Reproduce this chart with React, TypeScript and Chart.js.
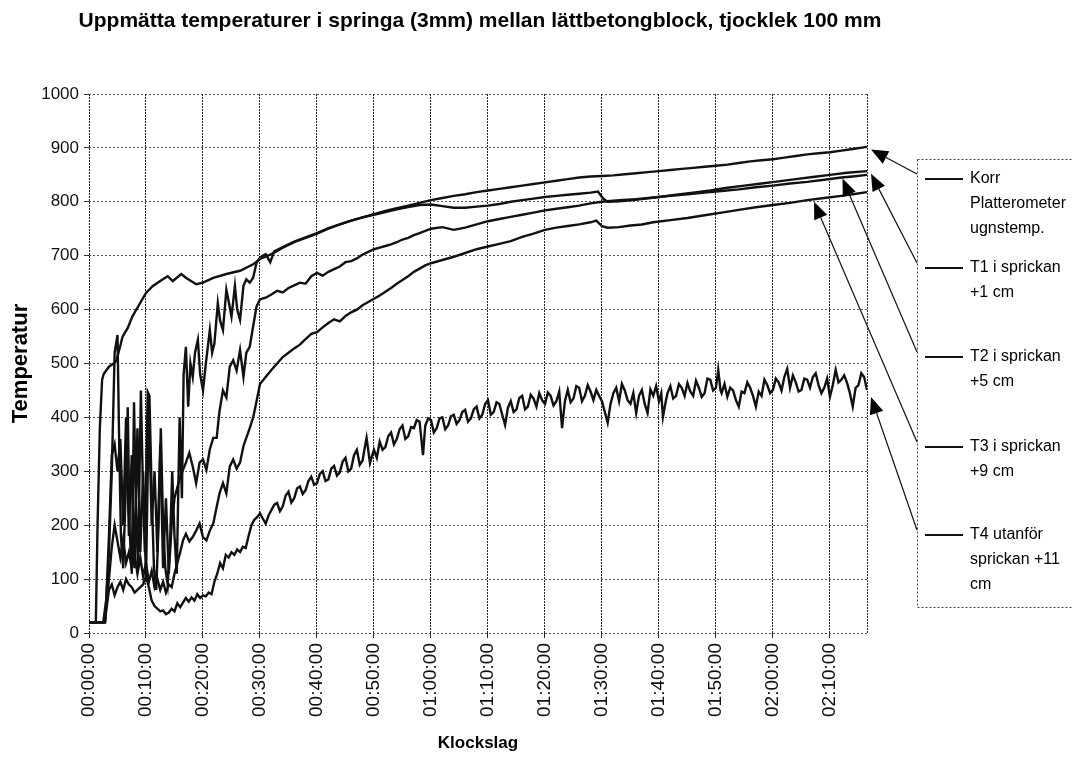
import React, { useEffect, useRef } from 'react';
import { Chart, registerables } from 'chart.js';

Chart.register(...registerables);

const FONT = '"Liberation Sans", Arial, Helvetica, sans-serif';

const TITLE = 'Uppmätta temperaturer i springa (3mm) mellan lättbetongblock, tjocklek 100 mm';
const X_TITLE = 'Klockslag';
const Y_TITLE = 'Temperatur';

const SERIES_NAMES = [
  'Korr Platterometer ugnstemp.',
  'T1 i sprickan +1 cm',
  'T2 i sprickan +5 cm',
  'T3 i sprickan +9 cm',
  'T4 utanför sprickan +11 cm',
];

const LEGEND_LINES = [
  ['Korr', 'Platterometer', 'ugnstemp.'],
  ['T1 i sprickan', '+1 cm'],
  ['T2 i sprickan', '+5 cm'],
  ['T3 i sprickan', '+9 cm'],
  ['T4 utanför', 'sprickan +11', 'cm'],
];

// time axis: minutes since start, temperature in °C
const X_MAX_MIN = 136.5;
const X_STEP_MIN = 10;
const Y_MAX = 1000;
const Y_STEP = 100;

const furnace: [number, number][] = [
  [0, 20], [1.2, 20], [1.5, 200], [1.9, 380], [2.3, 470], [2.6, 481], [3.5, 494], [4.3, 500], [4.8, 505],
  [5.3, 525], [5.9, 550], [6.8, 566], [7.6, 587], [8.8, 609], [10, 631], [11.2, 644], [12.9, 656], [13.8, 662],
  [14.7, 653], [16.2, 666], [17, 659], [18.8, 647], [20, 650], [21.8, 659], [24.1, 666], [26.5, 672], [28.8, 684],
  [30, 694], [32, 703], [34, 715], [36, 725], [38, 733], [40, 741], [42, 750], [44, 758], [46, 765], [48, 771],
  [50, 777], [52, 783], [54, 788], [56, 793], [58, 798], [60, 803], [62, 807], [64, 811], [66, 814], [68, 818],
  [70, 821], [72, 824], [74, 827], [76, 830], [78, 833], [80, 836], [82, 839], [84, 842], [86, 845], [88, 847],
  [90, 848], [92, 849], [94, 851], [96, 853], [98, 855], [100, 857], [102, 859], [104, 861], [106, 863], [108, 865],
  [110, 867], [112, 869], [114, 872], [116, 875], [118, 877], [120, 879], [122, 882], [124, 885], [126, 888],
  [128, 890], [130, 892], [132, 895], [134, 898], [136.5, 902],
];

const t1: [number, number][] = [
  [0, 20], [2.5, 20], [3, 60], [3.5, 150], [4, 300], [4.5, 520], [5, 553], [5.3, 350], [5.6, 180], [6, 120],
  [6.4, 250], [6.8, 419], [7.1, 200], [7.5, 110], [7.9, 428], [8.2, 250], [8.6, 120], [9.1, 450], [9.4, 300],
  [9.8, 150], [10.3, 447], [10.6, 440], [11, 260], [11.4, 120], [11.8, 80], [12.2, 200], [12.6, 380], [13, 200],
  [13.4, 120], [13.8, 90], [14.2, 160], [14.6, 300], [15, 180], [15.4, 110], [15.9, 400], [16.3, 250], [16.6, 480],
  [17, 531], [17.4, 420], [17.8, 500], [18.2, 475], [18.6, 520], [19.1, 544], [19.5, 480], [20, 450], [20.5, 500],
  [21.2, 562], [21.6, 520], [22, 537], [22.6, 612], [23, 580], [23.5, 562], [24.1, 637], [24.6, 610], [25, 587],
  [25.6, 644], [26, 600], [26.5, 581], [27.1, 644], [27.6, 656], [28.2, 650], [28.8, 659], [29.4, 687], [30, 697],
  [31, 703], [31.8, 688], [32.5, 708], [34, 716], [36, 726], [38, 734], [40, 742], [42, 751], [44, 758], [46, 765],
  [48, 771], [50, 776], [52, 781], [54, 786], [56, 790], [58, 794], [60, 795], [62, 792], [64, 789], [66, 789],
  [68, 791], [70, 793], [72, 796], [74, 800], [76, 803], [78, 806], [80, 809], [82, 811], [84, 813], [86, 815],
  [88, 817], [89.3, 819], [90.2, 806], [91, 800], [93, 801], [95, 803], [97, 805], [100, 809], [103, 813],
  [106, 817], [109, 821], [112, 826], [115, 830], [118, 834], [121, 838], [124, 842], [127, 846], [130, 850],
  [133, 854], [136.5, 857],
];

const t2: [number, number][] = [
  [0, 20], [2.8, 20], [3, 50], [3.5, 180], [4, 330], [4.5, 350], [5, 300], [5.5, 360], [6, 200], [6.5, 400],
  [7, 180], [7.5, 330], [8, 120], [8.5, 380], [9, 150], [9.5, 300], [10, 100], [10.5, 420], [11, 200], [11.5, 300],
  [12, 150], [12.5, 350], [13, 120], [13.5, 250], [14, 110], [14.5, 200], [15, 250], [16, 290], [17, 316],
  [17.6, 334], [18.2, 309], [18.8, 278], [19.4, 316], [20, 322], [20.6, 303], [21.2, 341], [21.8, 362], [22.4, 362],
  [22.9, 412], [23.5, 450], [24.1, 437], [24.7, 494], [25.3, 506], [25.9, 487], [26.5, 525], [27.1, 475],
  [27.6, 520], [28.2, 531], [28.8, 569], [29.4, 606], [30, 619], [31, 622], [32, 628], [33, 635], [34, 632],
  [35, 640], [36, 645], [37, 650], [38, 648], [39, 662], [40, 668], [41, 663], [42, 670], [43, 675], [44, 680],
  [45, 688], [46, 690], [47, 695], [48, 702], [49, 707], [50, 712], [51, 715], [52, 718], [53, 721], [54, 725],
  [55, 730], [56, 733], [57, 738], [58, 742], [60, 750], [62, 753], [64, 748], [66, 752], [68, 758], [70, 764],
  [72, 768], [74, 772], [76, 776], [78, 780], [80, 784], [82, 787], [84, 790], [86, 793], [88, 797], [90, 800],
  [93, 803], [96, 805], [99, 808], [102, 811], [105, 814], [108, 817], [111, 820], [114, 823], [117, 827],
  [120, 830], [123, 834], [126, 837], [129, 841], [132, 845], [134, 847], [136.5, 850],
];

const t3: [number, number][] = [
  [0, 20], [2.8, 20], [3, 45], [3.5, 100], [4, 160], [4.5, 200], [5, 170], [5.5, 140], [6, 175], [6.5, 130],
  [7, 150], [7.5, 120], [8, 145], [8.5, 110], [9, 140], [9.5, 105], [10, 130], [10.5, 95], [11, 115], [11.5, 85],
  [12, 100], [12.5, 80], [13, 95], [13.5, 75], [14, 90], [14.5, 85], [15, 110], [15.5, 130], [16, 150],
  [16.5, 172], [17, 184], [17.6, 170], [18.2, 178], [18.8, 190], [19.4, 203], [20, 178], [20.6, 172], [21.2, 190],
  [21.8, 203], [22.4, 234], [22.9, 259], [23.5, 278], [24.1, 259], [24.7, 309], [25.3, 322], [25.9, 305],
  [26.5, 316], [27.1, 347], [27.6, 362], [28.2, 380], [28.8, 400], [29.4, 430], [30, 462], [31, 475], [32, 488],
  [33, 500], [34, 512], [35, 520], [36, 528], [37, 535], [38, 545], [39, 555], [40, 558], [41, 567], [42, 575],
  [43, 582], [44, 578], [45, 588], [46, 595], [47, 600], [48, 608], [49, 614], [50, 620], [51, 626], [52, 633],
  [53, 640], [54, 648], [55, 655], [56, 662], [57, 670], [58, 676], [59, 682], [60, 686], [62, 692], [64, 698],
  [66, 705], [68, 712], [70, 717], [72, 722], [74, 727], [76, 735], [78, 741], [80, 748], [82, 752], [84, 755],
  [86, 758], [88, 762], [89, 765], [90, 755], [91, 752], [93, 753], [95, 756], [97, 758], [99, 762], [102, 766],
  [105, 770], [108, 775], [111, 780], [114, 785], [117, 790], [120, 794], [123, 798], [126, 803], [129, 807],
  [132, 811], [134, 814], [136.5, 818],
];

const t4: [number, number][] = [
  [0, 20], [2.8, 20], [3, 40], [3.5, 80], [4, 90], [4.5, 70], [5, 85], [5.5, 95], [6, 80], [6.5, 100], [7, 90],
  [7.5, 85], [8, 75], [8.5, 80], [9, 85], [9.5, 90], [10, 105], [10.5, 85], [11, 60], [11.5, 50], [12, 45],
  [12.5, 40], [13, 42], [13.5, 35], [14, 38], [14.5, 45], [15, 40], [15.5, 55], [16, 48], [17, 65], [17.5, 58],
  [18, 66], [18.5, 60], [19, 72], [19.5, 65], [20, 70], [20.5, 68], [21, 75], [21.5, 72], [22, 95], [22.5, 110],
  [23, 130], [23.5, 120], [24, 145], [24.5, 140], [25, 150], [25.5, 145], [26, 155], [26.5, 150], [27, 160],
  [27.5, 158], [28, 180], [28.5, 200], [29, 210], [29.5, 215],
  [30, 222], [30.5, 212], [31, 203], [31.5, 218], [32, 228], [32.5, 238], [33, 241], [33.5, 226], [34, 235],
  [34.5, 255], [35, 262], [35.5, 242], [36, 250], [36.5, 268], [37, 272], [37.5, 258], [38, 265], [38.5, 282],
  [39, 290], [39.5, 275], [40, 278], [40.5, 295], [41, 300], [41.5, 282], [42, 285], [42.5, 305], [43, 310],
  [43.5, 292], [44, 298], [44.5, 318], [45, 325], [45.5, 300], [46, 305], [46.5, 330], [47, 340], [47.5, 312],
  [48, 320], [48.4, 345], [48.7, 362], [49.3, 315], [49.7, 330], [50, 340], [50.5, 325], [51, 355], [51.5, 340],
  [52, 345], [52.5, 365], [53, 372], [53.5, 350], [54, 360], [54.5, 378], [55, 385], [55.5, 360], [56, 365],
  [56.5, 382], [57, 380], [57.5, 395], [58, 392], [58.6, 330], [59, 385], [59.5, 398],
  [60, 395], [60.5, 372], [61, 380], [61.5, 398], [62, 400], [62.5, 378], [63, 385], [63.5, 402], [64, 405],
  [64.5, 388], [65, 395], [65.5, 410], [66, 414], [66.5, 392], [67, 398], [67.5, 415], [68, 420], [68.5, 398],
  [69, 405], [69.5, 425], [70, 432], [70.5, 405], [71, 410], [71.5, 428], [72, 425], [72.5, 405], [73, 386],
  [73.5, 418], [74, 430], [74.5, 410], [75, 415], [75.5, 436], [76, 440], [76.5, 415], [77, 420], [77.5, 442],
  [78, 435], [78.5, 420], [79, 445], [79.5, 432], [80, 425], [80.5, 446], [81, 440], [81.5, 422], [82, 430],
  [82.5, 448], [83, 380], [83.5, 430], [84, 451], [84.5, 428], [85, 435], [85.5, 458], [86, 455], [86.5, 430],
  [87, 440], [87.5, 460], [88, 448], [88.5, 432], [89, 451], [89.5, 440], [90, 430], [90.5, 410], [91, 390],
  [91.5, 425], [92, 445], [92.5, 455], [93, 430], [93.5, 462], [94, 450], [94.5, 432], [95, 425], [95.5, 445],
  [96, 408], [96.5, 440], [97, 451], [97.5, 425], [98, 408], [98.5, 452], [99, 440], [99.5, 458], [100, 430],
  [100.4, 445], [100.7, 401], [101.2, 430], [101.5, 445], [102, 458], [102.5, 435], [103, 440], [103.5, 462],
  [104, 455], [104.5, 440], [105, 464], [105.5, 448], [106, 440], [106.5, 468], [107, 455], [107.5, 438],
  [108, 445], [108.5, 472], [109, 470], [109.5, 450], [110, 455], [110.4, 488], [110.8, 450], [111, 445],
  [111.5, 462], [112, 438], [112.5, 455], [113, 450], [113.5, 432], [114, 420], [114.5, 448], [115, 445],
  [115.5, 465], [116, 455], [116.5, 440], [117, 420], [117.5, 448], [118, 440], [118.5, 470], [119, 460],
  [119.5, 445], [120, 451], [120.5, 472], [121, 465], [121.5, 450], [122, 475], [122.5, 490], [123, 455],
  [123.5, 478], [124, 465], [124.5, 448], [125, 451], [125.5, 472], [126, 470], [126.5, 455], [127, 475],
  [127.5, 482], [128, 460], [128.5, 445], [129, 455], [129.5, 472], [130, 438], [130.5, 460], [131, 488],
  [131.5, 465], [132, 470], [132.5, 478], [133, 464], [133.5, 445], [134, 420], [134.5, 455], [135, 460],
  [135.5, 482], [136, 475], [136.5, 451],
];

const SERIES = [furnace, t1, t2, t3, t4];

// where each legend arrow points, in data coordinates (minutes, °C)
const ARROW_TARGETS: [number, number][] = [
  [136.5, 897],
  [136.5, 852],
  [131.5, 843],
  [126.5, 800],
  [136.5, 438],
];

const pad2 = (n: number) => String(n).padStart(2, '0');
const formatTime = (min: number) => {
  const h = Math.floor(min / 60);
  const m = Math.round(min - h * 60);
  return `${pad2(h)}:${pad2(m)}:00`;
};

const annotatePlugin = {
  id: 'annotate',
  afterDraw(chart: any) {
    const { ctx, chartArea: a, scales } = chart;
    const xs = scales.x;
    const ys = scales.y;
    ctx.save();

    // right border of the plot area
    ctx.strokeStyle = '#333';
    ctx.lineWidth = 1;
    ctx.setLineDash([2, 1]);
    ctx.beginPath();
    ctx.moveTo(Math.round(a.right) + 0.5, a.top);
    ctx.lineTo(Math.round(a.right) + 0.5, a.bottom);
    ctx.stroke();

    // title
    ctx.setLineDash([]);
    ctx.fillStyle = '#000';
    ctx.font = `bold 21px ${FONT}`;
    ctx.textAlign = 'center';
    ctx.textBaseline = 'middle';
    ctx.fillText(TITLE, (a.left + a.right) / 2 + 2, 21);

    // legend box
    const bx = Math.round(a.right) + 50;
    const by = Math.round(a.top) + 65;
    const bb = Math.round(a.bottom) - 26;
    ctx.setLineDash([2, 2]);
    ctx.strokeStyle = '#444';
    ctx.lineWidth = 1;
    ctx.strokeRect(bx + 0.5, by + 0.5, chart.width - bx + 20, bb - by);
    ctx.setLineDash([]);

    const rowOffsets = [20, 109, 198, 288, 376];
    ctx.font = `16px ${FONT}`;
    ctx.textAlign = 'left';
    ctx.textBaseline = 'middle';
    LEGEND_LINES.forEach((lines, i) => {
      const cy = by + rowOffsets[i];
      ctx.strokeStyle = '#111';
      ctx.lineWidth = 2;
      ctx.beginPath();
      ctx.moveTo(bx + 8, cy);
      ctx.lineTo(bx + 46, cy);
      ctx.stroke();
      ctx.fillStyle = '#000';
      lines.forEach((t, j) => ctx.fillText(t, bx + 53, cy + j * 25));

      // arrow from legend to the curve
      const [tt, tv] = ARROW_TARGETS[i];
      const tipX = xs.getPixelForValue(tt) + 4;
      const tipY = ys.getPixelForValue(tv);
      const tailX = bx;
      const tailY = cy - 5;
      const ang = Math.atan2(tipY - tailY, tipX - tailX);
      const len = 17;
      const hw = 7;
      const baseX = tipX - Math.cos(ang) * len;
      const baseY = tipY - Math.sin(ang) * len;
      ctx.strokeStyle = '#111';
      ctx.lineWidth = 1.2;
      ctx.beginPath();
      ctx.moveTo(tailX, tailY);
      ctx.lineTo(baseX, baseY);
      ctx.stroke();
      ctx.fillStyle = '#000';
      ctx.beginPath();
      ctx.moveTo(tipX, tipY);
      ctx.lineTo(baseX + Math.sin(ang) * hw, baseY - Math.cos(ang) * hw);
      ctx.lineTo(baseX - Math.sin(ang) * hw, baseY + Math.cos(ang) * hw);
      ctx.closePath();
      ctx.fill();
    });

    ctx.restore();
  },
};

export default function App() {
  const canvasRef = useRef<HTMLCanvasElement | null>(null);

  useEffect(() => {
    if (!canvasRef.current) return;
    Chart.defaults.font.family = FONT;
    Chart.defaults.color = '#000';

    const datasets = SERIES.map((s, i) => ({
      label: SERIES_NAMES[i],
      data: s.map(([x, y]) => ({ x, y })),
      borderColor: '#111',
      backgroundColor: '#111',
      borderWidth: 2.4,
      pointRadius: 0,
      tension: 0,
      fill: false,
    }));

    const chart = new Chart(canvasRef.current, {
      type: 'line',
      data: { datasets },
      options: {
        responsive: false,
        animation: false,
        layout: { padding: { top: 94, right: 205, bottom: 0, left: 0 } },
        plugins: {
          legend: { display: false },
          tooltip: { enabled: false },
          title: { display: false },
        },
        scales: {
          x: {
            type: 'linear',
            min: 0,
            max: X_MAX_MIN,
            afterFit: (s: any) => {
              s.height = 126;
            },
            ticks: {
              stepSize: X_STEP_MIN,
              includeBounds: false,
              autoSkip: false,
              maxRotation: 90,
              minRotation: 90,
              padding: 5,
              color: '#111',
              font: { family: FONT, size: 19 },
              callback: (v: any) => formatTime(Number(v)),
            },
            grid: {
              color: '#222',
              lineWidth: 1,
              tickLength: 5,
              tickColor: '#222',
              tickBorderDash: [],
            },
            border: { display: false, dash: [2, 1] },
            title: {
              display: true,
              text: X_TITLE,
              color: '#000',
              font: { family: FONT, size: 17, weight: 'bold' },
              padding: { top: 0, bottom: 5 },
            },
          },
          y: {
            type: 'linear',
            min: 0,
            max: Y_MAX,
            afterFit: (s: any) => {
              s.width = 89;
            },
            ticks: {
              stepSize: Y_STEP,
              padding: 5,
              color: '#111',
              font: { family: FONT, size: 17 },
              callback: (v: any) => String(v),
            },
            grid: {
              color: '#555',
              lineWidth: 1,
              tickLength: 5,
              tickColor: '#333',
              tickBorderDash: [],
            },
            border: { display: false, dash: [2, 2] },
            title: {
              display: true,
              text: Y_TITLE,
              color: '#000',
              font: { family: FONT, size: 22, weight: 'bold' },
              padding: { top: 8, bottom: 0 },
            },
          },
        },
      },
      plugins: [annotatePlugin],
    } as any);

    return () => chart.destroy();
  }, []);

  return (
    <div style={{ position: 'absolute', left: 0, top: 0, width: 1072, height: 759, background: '#fff', overflow: 'hidden' }}>
      <canvas ref={canvasRef} width={1072} height={759} style={{ display: 'block' }} />
    </div>
  );
}
